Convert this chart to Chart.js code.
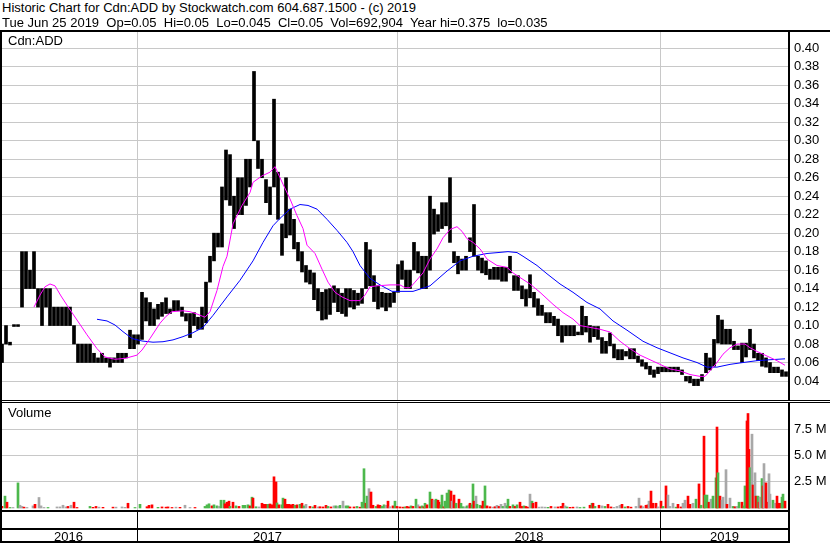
<!DOCTYPE html>
<html><head><meta charset="utf-8">
<script src="https://cdn.jsdelivr.net/npm/chart.js@4.4.0/dist/chart.umd.min.js"></script>
<style>
html,body{margin:0;padding:0;background:#fff;}
#wrap{position:relative;width:830px;height:543px;overflow:hidden;font-family:'Liberation Sans',Arial,sans-serif;font-size:13px;color:#000;}
.txt{position:absolute;white-space:pre;line-height:14px;z-index:2;}
#pc{position:absolute;left:0;top:30px;}
#vc{position:absolute;left:0;top:401px;}
</style></head><body>
<div id="wrap">
<div class="txt" style="left:2px;top:1px">Historic Chart for Cdn:ADD by Stockwatch.com 604.687.1500 - (c) 2019</div>
<div class="txt" style="left:2px;top:16px">Tue Jun 25 2019  Op=0.05  Hi=0.05  Lo=0.045  Cl=0.05  Vol=692,904  Year hi=0.375  lo=0.035</div>
<canvas id="pc" width="830" height="371"></canvas>
<canvas id="vc" width="830" height="142"></canvas>
<div class="txt" style="left:8px;top:34px">Cdn:ADD</div>
<div class="txt" style="left:8px;top:406px">Volume</div>
</div>
<script>
// ---- calendar (trading-day index) ----
const yearStart = [0, 137, 398, 660];
const yearLabels = ['2016', '2017', '2018', '2019'];
const lastDay = 789;
const barStart = 2, barStep = 4; // each price bar covers a 4-trading-day period

// ---- price ranges per period (low / high) ----
const lows = [0.060,0.080,0.079,0.099,0.099,0.120,0.140,0.140,0.140,0.120,
0.100,0.120,0.100,0.100,0.100,0.100,0.100,0.100,0.080,0.060,
0.060,0.060,0.060,0.060,0.060,0.060,0.060,0.055,0.060,0.060,
0.060,0.065,0.075,0.075,0.080,0.085,0.105,0.100,0.100,0.107,
0.110,0.113,0.113,0.116,0.116,0.110,0.105,0.087,0.100,0.096,
0.096,0.103,0.147,0.170,0.185,0.185,0.236,0.230,0.205,0.220,
0.220,0.230,0.250,0.300,0.270,0.260,0.233,0.220,0.250,0.215,
0.176,0.195,0.198,0.183,0.170,0.158,0.147,0.145,0.128,0.116,
0.106,0.107,0.112,0.125,0.115,0.113,0.110,0.120,0.118,0.122,
0.124,0.140,0.143,0.126,0.118,0.120,0.116,0.120,0.125,0.136,
0.150,0.140,0.140,0.160,0.157,0.140,0.140,0.160,0.199,0.202,
0.205,0.208,0.190,0.168,0.156,0.160,0.160,0.180,0.175,0.160,
0.157,0.155,0.150,0.150,0.150,0.148,0.148,0.157,0.138,0.138,
0.129,0.121,0.130,0.120,0.111,0.111,0.103,0.103,0.100,0.089,
0.082,0.089,0.089,0.089,0.090,0.090,0.093,0.082,0.088,0.085,
0.070,0.070,0.078,0.065,0.063,0.063,0.067,0.064,0.064,0.060,
0.056,0.053,0.047,0.044,0.048,0.050,0.050,0.050,0.050,0.050,
0.047,0.040,0.038,0.035,0.035,0.040,0.049,0.052,0.056,0.081,
0.080,0.080,0.080,0.074,0.074,0.060,0.066,0.074,0.065,0.062,
0.056,0.055,0.049,0.049,0.049,0.045,0.045];
const highs = [0.080,0.100,0.082,0.101,0.101,0.180,0.180,0.160,0.180,0.140,
0.140,0.140,0.140,0.120,0.120,0.120,0.120,0.120,0.100,0.080,
0.080,0.080,0.080,0.070,0.065,0.070,0.065,0.065,0.065,0.070,
0.070,0.070,0.095,0.090,0.090,0.136,0.130,0.125,0.118,0.123,
0.125,0.130,0.118,0.127,0.127,0.120,0.113,0.113,0.114,0.109,
0.120,0.147,0.175,0.200,0.200,0.250,0.290,0.285,0.240,0.260,
0.260,0.280,0.280,0.375,0.300,0.280,0.258,0.250,0.345,0.266,
0.210,0.260,0.226,0.215,0.190,0.180,0.165,0.160,0.157,0.140,
0.136,0.139,0.140,0.143,0.140,0.135,0.140,0.140,0.138,0.135,
0.140,0.190,0.182,0.154,0.143,0.136,0.135,0.135,0.136,0.166,
0.170,0.160,0.160,0.190,0.180,0.175,0.175,0.240,0.226,0.220,
0.233,0.233,0.260,0.180,0.175,0.172,0.175,0.195,0.231,0.175,
0.173,0.170,0.161,0.163,0.163,0.163,0.163,0.175,0.154,0.154,
0.143,0.139,0.155,0.136,0.129,0.122,0.114,0.114,0.110,0.107,
0.100,0.100,0.100,0.100,0.093,0.121,0.110,0.100,0.099,0.099,
0.087,0.083,0.092,0.080,0.074,0.074,0.072,0.075,0.075,0.067,
0.063,0.060,0.056,0.052,0.055,0.055,0.055,0.055,0.055,0.055,
0.052,0.045,0.045,0.042,0.042,0.047,0.070,0.065,0.085,0.111,
0.106,0.096,0.096,0.083,0.078,0.081,0.081,0.096,0.080,0.070,
0.070,0.065,0.060,0.055,0.055,0.052,0.050];

// ---- moving averages ----
const maShortDay = [34,40,45,50,55,61,67,77,87,97,105,115,125,137,142,150,160,166,172,183,190,197,205,210,217,223,227,233,242,250,253,262,270,275,280,283,290,297,303,307,315,322,328,335,342,350,360,365,370,377,390,400,405,410,415,423,430,437,443,450,457,462,467,473,480,487,497,507,513,520,530,540,547,553,563,573,580,590,600,610,620,630,640,650,660,670,680,690,700,705,710,717,723,730,737,745,750,757,767,777,785];
const maShortVal = [0.120,0.133,0.142,0.145,0.143,0.132,0.122,0.106,0.090,0.075,0.066,0.0635,0.0645,0.068,0.0735,0.086,0.1025,0.110,0.115,0.116,0.115,0.1125,0.109,0.115,0.138,0.164,0.175,0.210,0.230,0.244,0.255,0.262,0.266,0.272,0.260,0.253,0.237,0.219,0.205,0.187,0.178,0.161,0.147,0.136,0.131,0.127,0.127,0.133,0.142,0.143,0.144,0.144,0.141,0.141,0.147,0.157,0.172,0.183,0.195,0.204,0.207,0.202,0.194,0.190,0.183,0.172,0.165,0.163,0.157,0.152,0.145,0.136,0.129,0.123,0.114,0.107,0.100,0.098,0.096,0.093,0.083,0.075,0.068,0.063,0.058,0.053,0.051,0.047,0.045,0.045,0.051,0.060,0.069,0.076,0.080,0.080,0.076,0.072,0.067,0.062,0.057];
const maLongDay = [97,107,115,123,132,142,153,163,173,183,193,203,213,227,240,253,263,273,280,290,300,308,317,327,337,347,353,360,370,380,392,403,413,430,447,460,473,487,498,508,517,523,537,547,560,573,587,600,613,627,643,657,670,683,697,707,717,730,743,757,770,785];
const maLongVal = [0.1068,0.105,0.1006,0.0934,0.086,0.0833,0.082,0.0825,0.0845,0.088,0.0923,0.098,0.111,0.131,0.149,0.170,0.190,0.208,0.216,0.226,0.231,0.230,0.226,0.215,0.203,0.190,0.180,0.165,0.151,0.144,0.137,0.137,0.137,0.143,0.159,0.170,0.175,0.178,0.179,0.180,0.179,0.175,0.165,0.156,0.145,0.136,0.125,0.118,0.105,0.095,0.083,0.076,0.0705,0.065,0.060,0.055,0.055,0.058,0.060,0.062,0.063,0.064];

// ---- daily volume (millions), direction u=up d=down n=unchanged ----
const volDay = [2,5,7,10,13,18,20,22,24,27,33,35,39,41,44,48,57,60,63,66,68,71,74,77,90,93,96,99,103,113,116,122,125,128,135,140,147,149,152,158,162,166,168,172,176,180,185,190,195,205,207,209,212,214,217,219,221,224,225,227,229,230,233,236,239,243,245,248,250,252,253,256,259,262,264,266,268,270,272,274,276,277,279,282,283,285,287,289,291,293,295,297,300,302,304,306,310,313,315,318,320,323,326,328,331,334,336,338,340,343,346,348,350,354,357,360,362,364,366,367,369,371,373,376,378,380,382,384,386,388,390,393,395,397,
400,403,405,407,409,411,413,416,418,420,422,424,425,427,430,432,434,436,438,439,441,442,444,445,447,449,451,452,454,456,459,461,463,465,467,469,470,472,473,474,476,477,480,482,483,485,487,490,493,495,497,499,501,503,505,507,508,510,513,515,517,520,522,524,526,528,530,532,533,536,539,542,545,548,551,555,558,561,563,565,567,570,573,577,580,584,590,592,593,595,599,602,605,608,611,614,617,620,622,625,628,631,636,639,641,643,646,648,649,651,653,656,658,661,663,666,668,670,673,676,678,681,683,685,688,690,693,696,699,701,704,705,707,709,711,713,716,717,718,720,722,723,726,727,730,733,735,737,739,742,744,745,747,748,749,750,752,753,755,756,758,759,760,762,763,764,766,767,769,770,773,775,777,778,780,782,783,785];
const volM = [0.16,1.13,0.55,0.05,0.05,2.39,0.26,0.15,0.08,0.05,0.2,0.35,1.0,0.2,0.05,0.05,0.1,0.1,0.26,0.1,0.15,0.26,0.55,0.05,0.15,0.06,0.15,0.08,0.06,0.08,0.08,0.1,0.06,0.45,0.05,0.35,0.12,0.25,0.3,0.06,0.1,0.08,0.1,0.05,0.08,0.06,0.26,0.05,0.05,0.15,0.3,0.4,0.2,0.3,0.2,0.15,0.74,0.74,0.4,0.55,0.65,0.15,0.55,0.2,0.15,0.25,0.25,0.3,0.2,1.03,0.94,0.12,0.1,0.45,0.35,0.35,0.35,0.38,0.3,2.97,2.48,0.48,0.3,0.3,0.94,0.84,0.35,0.35,0.3,0.35,0.25,0.3,0.35,0.45,0.2,0.35,0.15,0.1,0.25,0.1,0.12,0.1,0.25,0.15,0.1,0.2,0.2,0.15,0.25,0.65,0.2,0.2,0.1,0.1,0.15,0.08,0.55,3.74,0.45,1.13,1.84,1.52,0.26,0.15,0.3,0.25,0.15,0.3,0.25,0.65,0.12,0.2,0.65,0.15,
0.1,0.08,0.1,0.15,0.1,0.2,0.15,0.84,0.3,0.12,0.2,0.12,0.45,0.3,1.52,0.84,0.74,0.84,0.74,0.55,0.3,1.23,0.12,0.65,1.42,1.71,1.61,0.65,1.23,0.45,0.84,0.45,0.12,0.1,0.2,0.3,0.45,0.3,2.29,0.65,1.13,0.35,0.26,0.2,0.65,2.1,0.2,0.12,0.08,0.12,0.25,0.15,0.35,0.15,0.45,0.2,0.84,0.15,0.3,0.15,0.3,0.55,0.15,0.2,0.15,0.08,1.32,0.65,0.45,0.55,0.08,0.1,0.08,0.06,0.15,0.1,0.1,0.15,0.45,0.2,0.1,0.06,0.08,0.1,0.05,0.08,0.26,0.45,0.45,0.15,0.26,0.2,0.15,0.35,0.1,0.06,0.15,0.26,0.35,0.1,0.15,0.08,0.15,0.94,0.2,0.12,0.26,0.3,0.65,1.61,0.45,0.45,0.1,0.65,0.15,2.1,1.23,0.15,0.45,0.08,0.35,0.1,0.45,0.74,1.13,0.35,0.45,0.84,2.29,0.26,6.84,1.23,1.23,0.55,0.84,1.13,2.87,7.71,3.35,1.13,0.74,1.03,3.65,0.35,0.94,0.15,0.12,0.15,0.55,0.55,0.2,2.1,8.29,9.0,5.58,3.84,7.03,2.19,3.35,1.13,1.13,0.55,1.03,2.8,2.1,4.23,2.39,0.55,3.26,1.32,0.74,0.45,1.13,0.45,0.45,1.03,1.32,0.65];
const volDir = ['d','u','d','u','n','u','n','n','d','n','n','d','n','n','n','u','n','n','n','n','d','n','d','d','u','d','d','n','d','d','n','n','n','d','u','u','d','d','d','u','d','d','d','d','n','d','n','n','d','u','u','u','d','u','u','n','u','u','d','d','d','u','d','u','d','u','u','u','d','u','d','u','n','d','d','d','u','d','d','d','d','u','d','u','u','d','d','d','d','d','u','d','u','d','u','n','d','u','d','n','d','d','d','u','d','n','u','n','u','n','u','u','d','d','u','d','u','u','d','u','n','d','d','u','d','d','u','u','n','d','n','d','u','d',
'd','d','u','d','d','u','d','u','n','d','u','d','u','d','u','d','n','u','d','d','u','u','d','u','u','u','d','n','d','u','d','u','u','n','u','n','d','u','u','d','n','u','u','d','d','u','d','d','n','d','n','d','n','u','n','u','u','d','u','d','u','d','d','u','d','d','n','u','d','d','n','n','n','u','d','n','d','d','d','n','u','d','d','n','u','u','d','u','d','u','d','n','u','d','d','n','n','n','d','u','d','d','n','n','d','n','d','d','n','d','d','d','n','d','u','d','n','n','n','u','d','d','n','n','d','d','n','u','d','u','d','u','u','d','n','u','u','d','u','d','n','n','n','d','n','u','d','n','u','d','u','u','d','d','d','u','n','d','n','d','u','d','n','u','d','n','d','d','n','n','u','n','d','d','d','u','u'];

// ---- axis tick values ----
const priceTicks = [0.04,0.06,0.08,0.10,0.12,0.14,0.16,0.18,0.20,0.22,0.24,0.26,0.28,0.30,0.32,0.34,0.36,0.38,0.40];
const volTicks = [2.5, 5.0, 7.5];

// ---------------------------------------------------------------
Chart.defaults.font.family = "'Liberation Sans', Arial, sans-serif";
Chart.defaults.font.size = 13;
Chart.defaults.color = '#000';
const GRID = '#c8c8c8';
const dirColor = {u: '#4cb84c', d: '#ff0000', n: '#a8a8a8'};

const priceBars = lows.map((lo, i) => ({x: barStart + i * barStep, y: [lo, highs[i]]}));
const maShort = maShortDay.map((d, i) => ({x: d, y: maShortVal[i]}));
const maLong = maLongDay.map((d, i) => ({x: d, y: maLongVal[i]}));
const volPts = volDay.map((d, i) => ({x: d, y: volM[i]}));
const volCols = volDir.map(k => dirColor[k]);
const boundaries = yearStart.slice(1);
const mids = yearStart.map((s, i) => (s + (i + 1 < yearStart.length ? yearStart[i + 1] : lastDay)) / 2);

const noPadY = w => s => { s.width = w; s.paddingTop = 0; s.paddingBottom = 0; };
const noPadX = h => s => { s.height = h; s.paddingLeft = 0; s.paddingRight = 0; };

const priceFrame = {
  id: 'priceFrame',
  afterDraw(chart) {
    const c = chart.ctx, a = chart.chartArea, W = chart.width;
    c.save(); c.fillStyle = '#000';
    c.fillRect(0, a.top - 2, W, 2);          // header rule
    c.fillRect(0, a.bottom, W, 1);           // panel bottom
    c.fillRect(0, a.top, 2, a.bottom - a.top);
    c.restore();
  }
};
const volFrame = {
  id: 'volFrame',
  afterDraw(chart) {
    const c = chart.ctx, a = chart.chartArea, W = chart.width, H = chart.height;
    const xs = chart.scales.x;
    c.save(); c.fillStyle = '#000';
    c.fillRect(0, a.top - 1, W, 1);          // panel top
    c.fillRect(0, a.bottom, a.right, 2);     // panel bottom
    c.fillRect(0, a.bottom + 18, a.right, 2);
    c.fillRect(0, H - 2, a.right, 2);
    c.fillRect(0, 0, 2, H);
    c.fillRect(a.right - 1, a.bottom, 2, H - a.bottom);
    boundaries.forEach(b => {
      const px = Math.round(xs.getPixelForValue(b));
      c.fillRect(px, a.bottom, 1, H - a.bottom);
    });
    c.restore();
  }
};

new Chart(document.getElementById('pc'), {
  type: 'bar',
  data: {datasets: [
    {type: 'line', data: maShort, borderColor: '#ff00ff', borderWidth: 1, pointRadius: 0, order: 0, tension: 0},
    {type: 'line', data: maLong, borderColor: '#0000ff', borderWidth: 1, pointRadius: 0, order: 0, tension: 0},
    {type: 'bar', data: priceBars, backgroundColor: '#000', barThickness: 3, order: 1}
  ]},
  options: {
    responsive: false, animation: false, devicePixelRatio: 1,
    layout: {padding: {top: 2, bottom: 1, left: 0, right: 0}},
    plugins: {legend: {display: false}, tooltip: {enabled: false}},
    scales: {
      x: {type: 'linear', min: 0, max: lastDay, offset: false,
          afterBuildTicks: s => { s.ticks = boundaries.map(v => ({value: v})); },
          grid: {color: GRID, drawTicks: false, offset: false},
          border: {display: false}, ticks: {display: false},
          afterFit: noPadX(0)},
      y: {position: 'right', min: 0.019437, max: 0.41771,
          afterBuildTicks: s => { s.ticks = priceTicks.map(v => ({value: v})); },
          grid: {color: GRID, drawTicks: false},
          border: {display: true, color: '#000', width: 2},
          ticks: {padding: 5, callback: v => Number(v).toFixed(2)},
          afterFit: noPadY(41)}
    }
  },
  plugins: [priceFrame]
});

new Chart(document.getElementById('vc'), {
  type: 'bar',
  data: {datasets: [
    {data: volPts, backgroundColor: volCols, barThickness: 2}
  ]},
  options: {
    responsive: false, animation: false, devicePixelRatio: 1,
    layout: {padding: {top: 2, bottom: 0, left: 0, right: 0}},
    plugins: {legend: {display: false}, tooltip: {enabled: false}},
    scales: {
      x: {type: 'linear', min: 0, max: lastDay, offset: false,
          afterBuildTicks: s => { s.ticks = boundaries.concat(mids).sort((a, b) => a - b).map(v => ({value: v})); },
          grid: {drawTicks: false, offset: false,
                 color: ctx => (ctx.tick && boundaries.includes(ctx.tick.value)) ? GRID : 'rgba(0,0,0,0)'},
          border: {display: false},
          ticks: {autoSkip: false, maxRotation: 0, padding: 20,
                  callback: v => { const k = mids.indexOf(v); return k >= 0 ? yearLabels[k] : ''; }},
          afterFit: noPadX(33)},
      y: {position: 'right', min: -0.192, max: 10.0,
          afterBuildTicks: s => { s.ticks = volTicks.map(v => ({value: v})); },
          grid: {color: GRID, drawTicks: false},
          border: {display: true, color: '#000', width: 2},
          ticks: {padding: 5, callback: v => Number(v).toFixed(1) + ' M'},
          afterFit: noPadY(41)}
    }
  },
  plugins: [volFrame]
});
</script>
</body></html>
